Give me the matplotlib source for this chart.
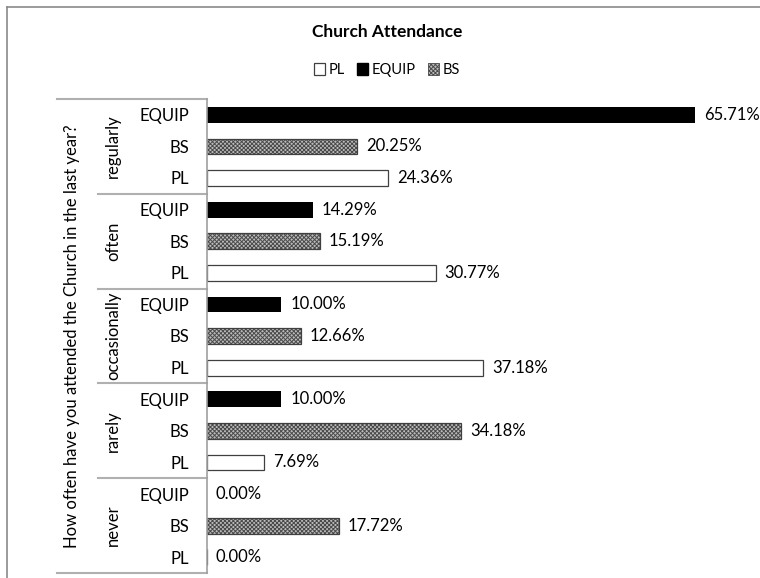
import numpy as np
import matplotlib
matplotlib.use('Agg')
import matplotlib.pyplot as plt
from matplotlib.patches import Patch
from matplotlib.lines import Line2D

plt.rcParams['font.family'] = ['Lato', 'DejaVu Sans']
plt.rcParams['hatch.linewidth'] = 0.7

# data
groups = ['regularly', 'often', 'occasionally', 'rarely', 'never']
series = ['EQUIP', 'BS', 'PL']
equip = [65.71, 14.29, 10.00, 10.00, 0.00]
bs = [20.25, 15.19, 12.66, 34.18, 17.72]
pl = [24.36, 30.77, 37.18, 7.69, 0.00]
ytitle = 'How often have you attended the Church in the last year?'

W, H = 760, 578
fig = plt.figure(figsize=(W / 100, H / 100), dpi=100)
L, R, T, B = 207, 740, 99, 573
ax = fig.add_axes([L / W, (H - B) / H, (R - L) / W, (B - T) / H])

n = len(groups)
vals = np.column_stack([equip, bs, pl])  # rows: groups, cols: series
ypos = np.arange(n * 3).reshape(n, 3)
bh = 0.5
fs = 12

bs_face, bs_hatch = '#bcbcbc', '#4a4a4a'
ax.barh(ypos[:, 0], vals[:, 0], height=bh, color='black', lw=0)
ax.barh(ypos[:, 1], vals[:, 1], height=bh, facecolor=bs_face, edgecolor=bs_hatch,
        hatch='xxxxxxxx', lw=0)
ax.barh(ypos[:, 1], vals[:, 1], height=bh, fill=False, edgecolor='#404040', lw=0.9)
ax.barh(ypos[:, 2], vals[:, 2], height=bh, facecolor='white', edgecolor='#404040', lw=0.9)

for gi in range(n):
    for si in range(3):
        v = vals[gi, si]
        ax.text(v + 1.2, ypos[gi, si], '%.2f%%' % v, va='center', ha='left', fontsize=fs)

ax.set_xlim(0, (R - L) / 7.43)
ax.set_ylim(n * 3 - 0.5, -0.5)
ax.set_xticks([])
ax.set_yticks(ypos.ravel())
ax.set_yticklabels(series * n, fontsize=fs)
ax.tick_params(axis='y', length=0, pad=13)
for s in ['top', 'right', 'bottom']:
    ax.spines[s].set_visible(False)
ax.spines['left'].set_color('#a0a0a0')
ax.spines['left'].set_linewidth(1.2)

# category table lines
tr = ax.get_yaxis_transform()
lc = '#b0b0b0'
for yb in [-0.5, n * 3 - 0.5]:
    ax.plot([(57 - L) / (R - L), 0], [yb, yb], color=lc, lw=1.5, transform=tr, clip_on=False)
for gi in range(1, n):
    yb = gi * 3 - 0.5
    ax.plot([(98 - L) / (R - L), 0], [yb, yb], color=lc, lw=1.5, transform=tr, clip_on=False)
for gi, g in enumerate(groups):
    ax.text((113 - L) / (R - L), gi * 3 + 1, g, rotation=90, ha='center', va='center',
            fontsize=fs, transform=tr)
ax.text((72 - L) / (R - L), (n * 3 - 1) / 2, ytitle, rotation=90, ha='center', va='center',
        fontsize=fs, transform=tr)

# outer frame (only top and left visible)
fig.add_artist(Line2D([7 / W, 7 / W], [-0.1, 1 - 7 / H], color='#8a8a8a', lw=1.2))
fig.add_artist(Line2D([7 / W, 1.1], [1 - 7 / H, 1 - 7 / H], color='#8a8a8a', lw=1.2))

fig.text(387 / W, 1 - 32 / H, 'Church Attendance', ha='center', va='center',
         fontsize=12.5, fontweight='bold')

handles = [Patch(facecolor='white', edgecolor='#404040', lw=0.9),
           Patch(facecolor='black', edgecolor='black'),
           Patch(facecolor=bs_face, edgecolor=bs_hatch, hatch='xxxxxxxx', lw=0.6)]
fig.legend(handles, ['PL', 'EQUIP', 'BS'], loc='center', bbox_to_anchor=(387 / W, 1 - 70 / H),
           ncol=3, frameon=False, fontsize=10.5, handlelength=0.8, handleheight=0.8,
           handletextpad=0.25, columnspacing=0.8)

fig.savefig('out.png', dpi=100, facecolor='white')
